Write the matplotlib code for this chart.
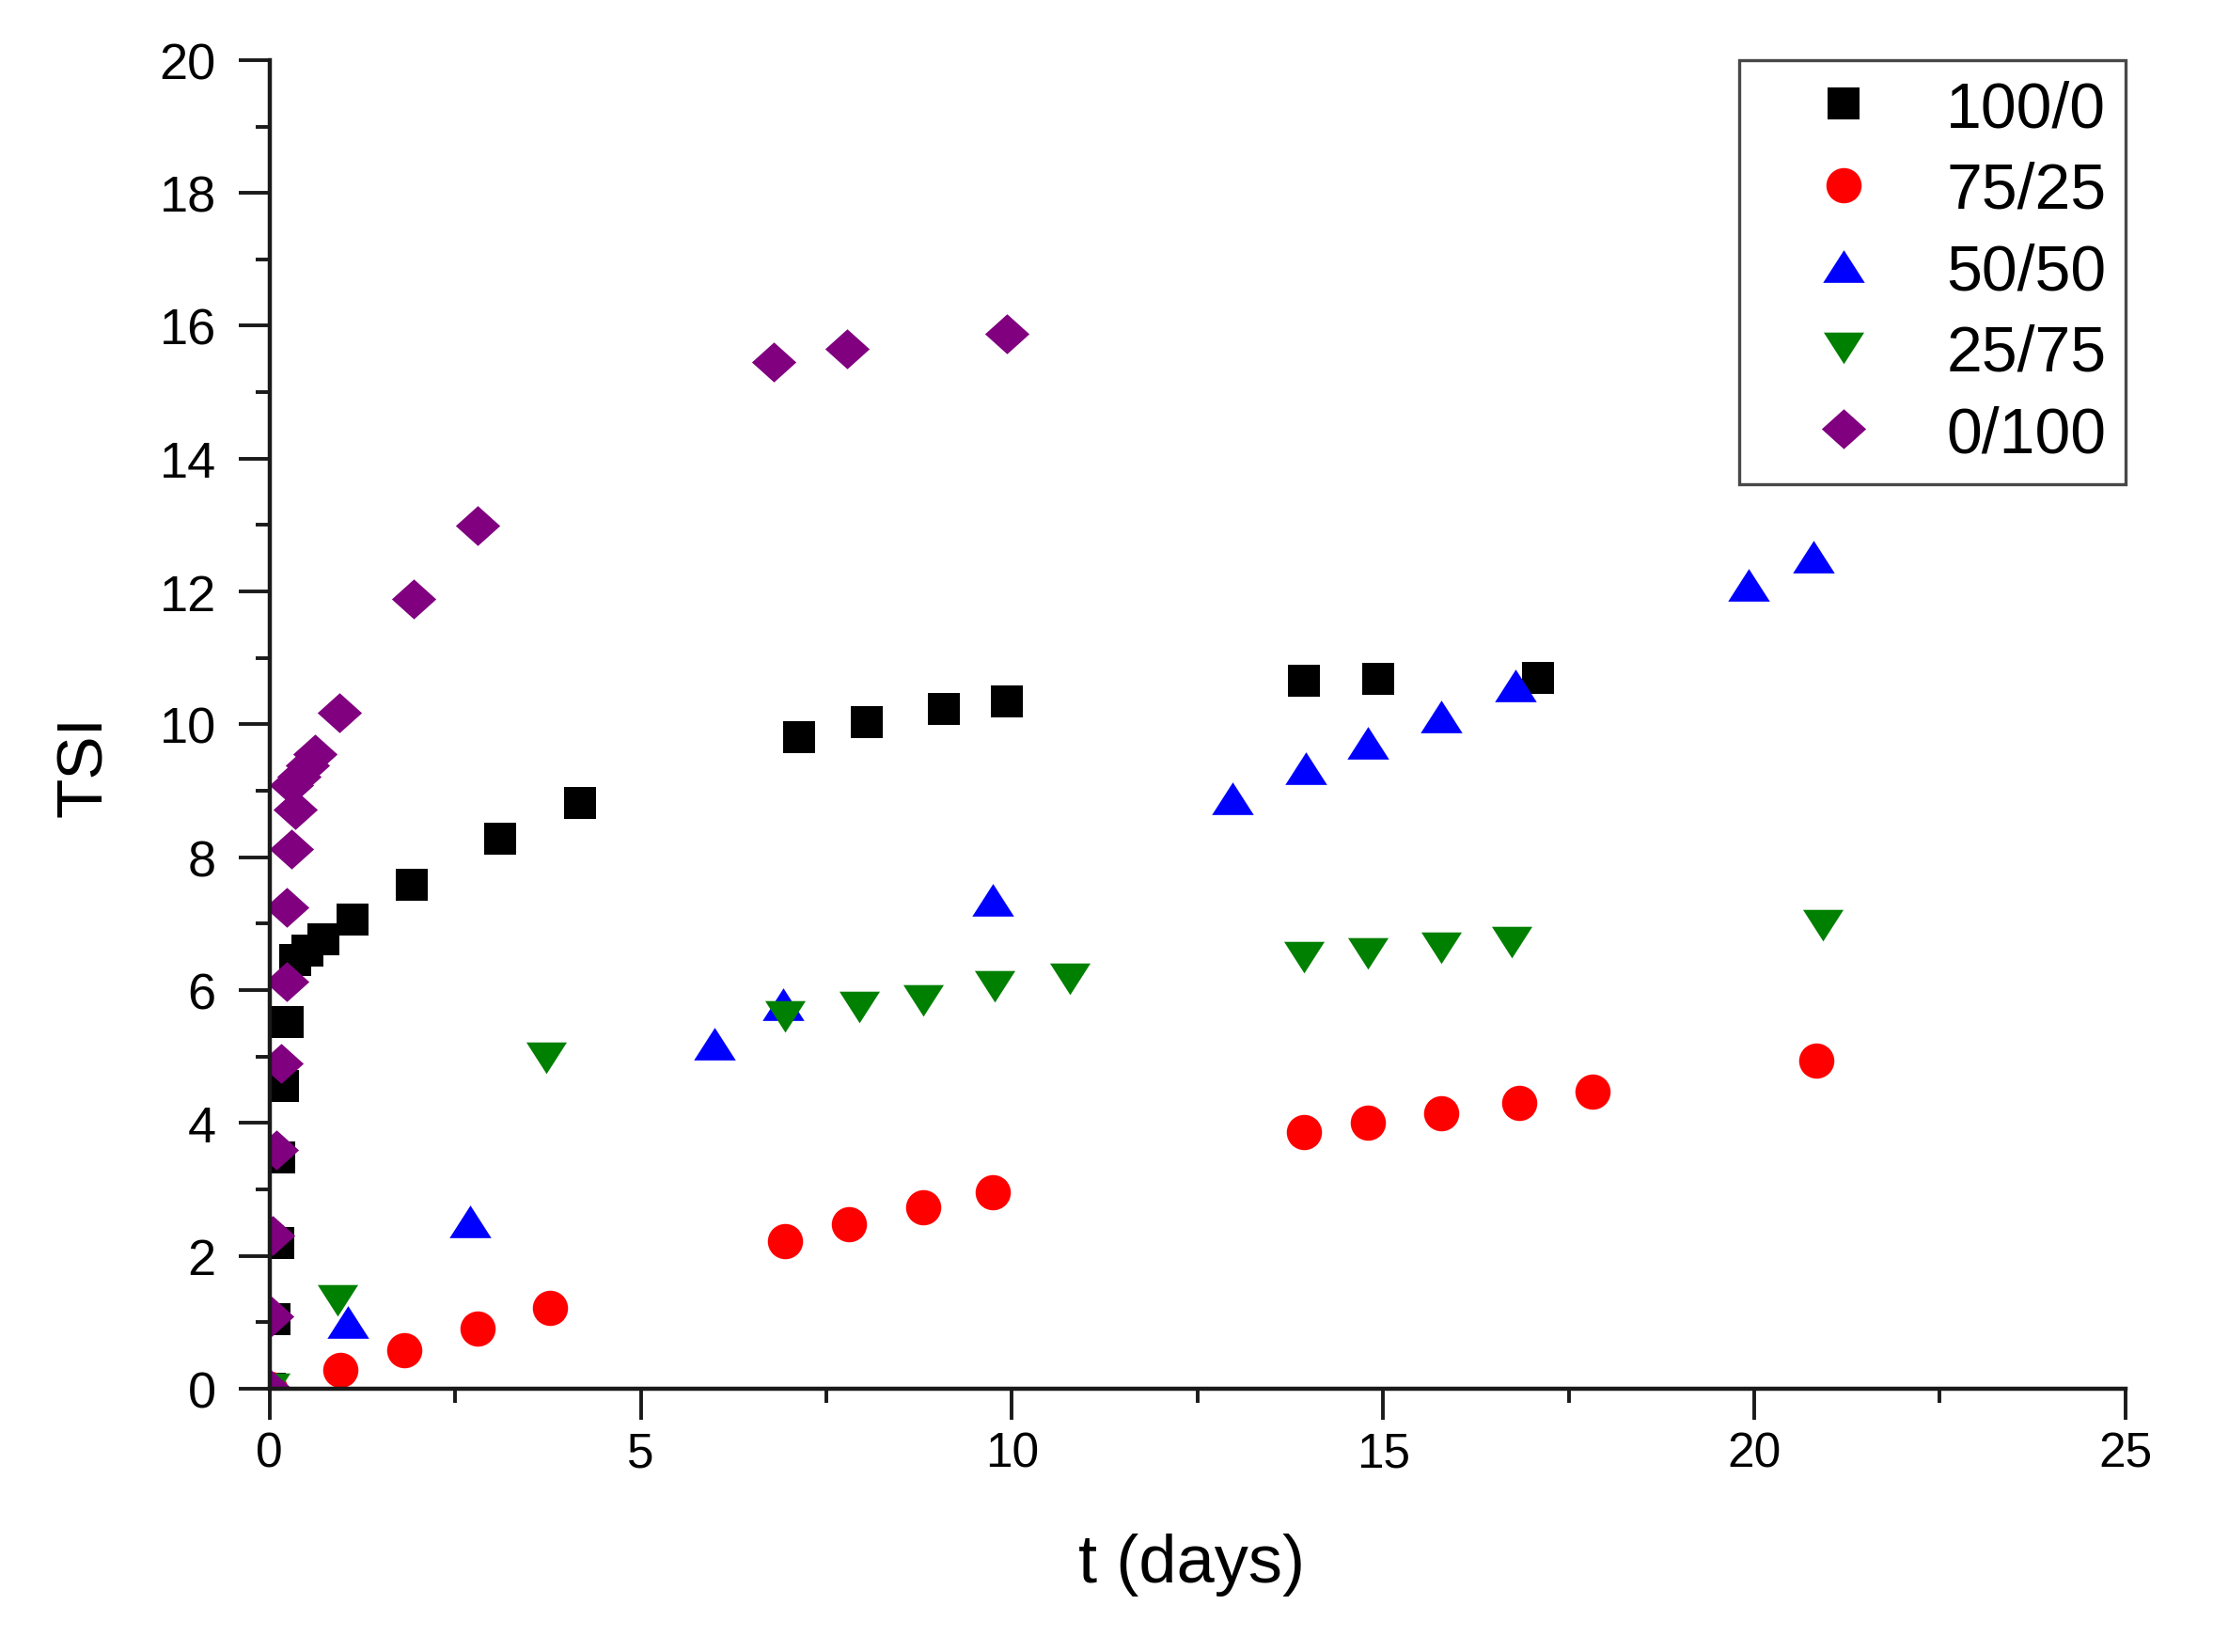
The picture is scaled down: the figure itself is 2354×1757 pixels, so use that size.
import matplotlib
matplotlib.use("Agg")
import matplotlib.pyplot as plt
from matplotlib.ticker import MultipleLocator

plt.rcParams['font.family'] = ['Liberation Sans', 'DejaVu Sans']

# ---- data ----
t_100_0 = [0, 0.07, 0.12, 0.13, 0.18, 0.25, 0.34, 0.51, 0.72, 1.12, 1.92, 3.10, 4.18,
           7.13, 8.04, 9.09, 9.93, 13.94, 14.93, 17.09]
tsi_100_0 = [0, 1.05, 2.20, 3.48, 4.56, 5.52, 6.46, 6.60, 6.77, 7.06, 7.59, 8.28, 8.81,
             9.81, 10.04, 10.23, 10.34, 10.66, 10.68, 10.70]

t_75_25 = [0, 0.95, 1.81, 2.80, 3.78, 6.94, 7.80, 8.80, 9.74, 13.94, 14.79, 15.78,
           16.83, 17.82, 20.84]
tsi_75_25 = [0, 0.28, 0.58, 0.90, 1.22, 2.22, 2.48, 2.73, 2.96, 3.86, 4.00, 4.15,
             4.30, 4.47, 4.94]

t_50_50 = [0, 1.05, 2.70, 5.99, 6.92, 9.74, 12.97, 13.96, 14.79, 15.78, 16.79, 19.93, 20.80]
tsi_50_50 = [0, 1.00, 2.52, 5.20, 5.79, 7.36, 8.89, 9.34, 9.72, 10.12, 10.59, 12.10, 12.53]

t_25_75 = [0, 0.91, 3.73, 6.94, 7.95, 8.80, 9.77, 10.78, 13.94, 14.79, 15.78, 16.73, 20.93]
tsi_25_75 = [0, 1.33, 4.98, 5.60, 5.75, 5.85, 6.05, 6.17, 6.49, 6.55, 6.64, 6.72, 6.98]

t_0_100 = [0, 0.025, 0.04, 0.09, 0.15, 0.23, 0.23, 0.29, 0.34, 0.29, 0.40, 0.51, 0.61,
           0.94, 1.94, 2.80, 6.79, 7.78, 9.93]
tsi_0_100 = [0, 1.09, 2.30, 3.60, 4.90, 6.13, 7.24, 8.13, 8.72, 9.08, 9.22, 9.38, 9.55,
             10.17, 11.89, 12.99, 15.46, 15.65, 15.88]

labels = ['100/0', '75/25', '50/50', '25/75', '0/100']
colors = ['#000000', '#FF0000', '#0000FF', '#008000', '#800080']

x_ticks = [0, 5, 10, 15, 20, 25]
y_ticks = [0, 2, 4, 6, 8, 10, 12, 14, 16, 18, 20]

# ---- marker shapes ----
diamond = [(-1, 0), (0, 0.9), (1, 0), (0, -0.9), (-1, 0)]
tri_up = [(0, 0.78), (-1, -0.78), (1, -0.78), (0, 0.78)]
tri_down = [(0, -0.78), (-1, 0.78), (1, 0.78), (0, -0.78)]

fig = plt.figure(figsize=(23.54, 17.58), dpi=100)
ax = fig.add_axes([0.1218, 0.1593, 0.8386, 0.8038])

series = [
    (t_100_0, tsi_100_0, 's', 24),
    (t_75_25, tsi_75_25, 'o', 27),
    (t_50_50, tsi_50_50, tri_up, 32),
    (t_25_75, tsi_25_75, tri_down, 31),
    (t_0_100, tsi_0_100, diamond, 34),
]
for (xs, ys, mk, ms), lab, col in zip(series, labels, colors):
    ax.plot(xs, ys, linestyle='none', marker=mk, markersize=ms,
            markerfacecolor=col, markeredgewidth=0, color=col, label=lab)

ax.set_xlim(0, 25)
ax.set_ylim(0, 20)
ax.set_xticks(x_ticks)
ax.set_yticks(y_ticks)
ax.xaxis.set_minor_locator(MultipleLocator(2.5))
ax.yaxis.set_minor_locator(MultipleLocator(1))

for s in ['top', 'right']:
    ax.spines[s].set_visible(False)
for s in ['left', 'bottom']:
    ax.spines[s].set_linewidth(3.2)
    ax.spines[s].set_color('#1a1a1a')

ax.tick_params(axis='both', which='major', direction='out', length=24, width=2.8,
               color='#1a1a1a')
ax.tick_params(axis='both', which='minor', direction='out', length=11, width=2.8,
               color='#1a1a1a')
ax.tick_params(axis='x', which='major', pad=8, labelsize=37)
ax.tick_params(axis='y', which='major', pad=17, labelsize=39)

ax.set_xlabel('t (days)', fontsize=52, va='center')
ax.xaxis.set_label_coords(0.497, -0.132)
ax.set_ylabel('TSI', fontsize=50, va='center')
ax.yaxis.set_label_coords(-0.0996, 0.469)

leg = ax.legend(loc='upper right', bbox_to_anchor=(1.0, 1.0), borderaxespad=0,
                fontsize=49, frameon=True, fancybox=False, edgecolor='#1a1a1a',
                borderpad=0.3, labelspacing=0.33, handlelength=2.65,
                handletextpad=0.28, markerscale=1.0)
leg.get_frame().set_linewidth(2.4)

fig.savefig('out.png', dpi=100, facecolor='white')
